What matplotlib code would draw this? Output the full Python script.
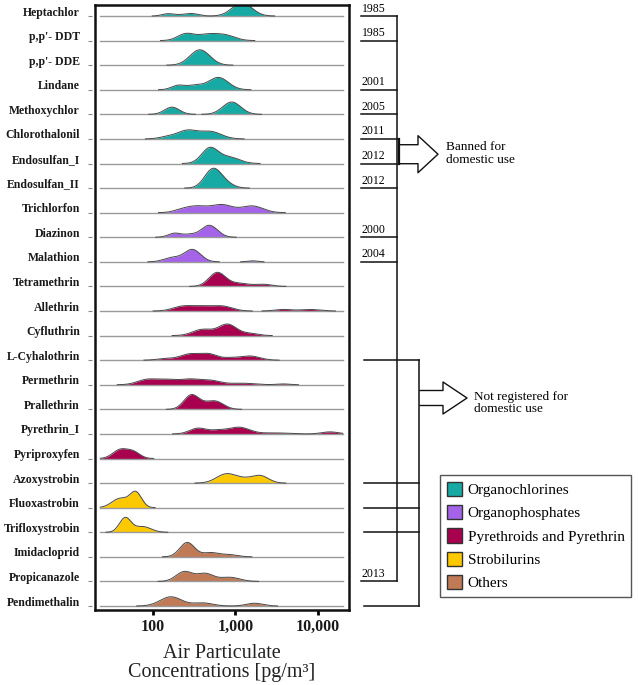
import numpy as np
import matplotlib
matplotlib.use("Agg")
import matplotlib.pyplot as plt
from matplotlib.patches import Patch
from matplotlib.lines import Line2D
from matplotlib.ticker import NullLocator
from matplotlib.transforms import blended_transform_factory

plt.rcParams['font.family'] = ['Liberation Serif', 'DejaVu Serif']

pesticides = ['Heptachlor', "p,p'- DDT", "p,p'- DDE", 'Lindane', 'Methoxychlor',
              'Chlorothalonil', 'Endosulfan_I', 'Endosulfan_II', 'Trichlorfon',
              'Diazinon', 'Malathion', 'Tetramethrin', 'Allethrin', 'Cyfluthrin',
              'L-Cyhalothrin', 'Permethrin', 'Prallethrin', 'Pyrethrin_I',
              'Pyriproxyfen', 'Azoxystrobin', 'Fluoxastrobin', 'Trifloxystrobin',
              'Imidacloprid', 'Propicanazole', 'Pendimethalin']
pest_class = [0, 0, 0, 0, 0, 0, 0, 0, 1, 1, 1, 2, 2, 2, 2, 2, 2, 2, 2, 3, 3, 3, 4, 4, 4]

class_names = ['Organochlorines', 'Organophosphates', 'Pyrethroids and Pyrethrin',
               'Strobilurins', 'Others']
class_colors = ['#17a9a3', '#a463e8', '#a8004f', '#fcc900', '#c07a55']

# density peaks: (concentration pg/m3, height, width in decades)
peaks = [
    [(150, 2, 0.07), (220, 1, 0.1), (300, 2, 0.08), (1200, 13, 0.12)],
    [(250, 6.5, 0.1), (450, 5.5, 0.12), (750, 5, 0.12)],
    [(370, 15, 0.12)],
    [(200, 4, 0.08), (320, 4, 0.1), (620, 12, 0.12)],
    [(170, 7, 0.09), (900, 12, 0.11)],
    [(150, 2, 0.1), (260, 8, 0.12), (500, 7, 0.13)],
    [(490, 15, 0.1), (850, 6, 0.12)],
    [(530, 18, 0.1), (750, 4, 0.1)],
    [(220, 2, 0.1), (340, 6, 0.13), (690, 7.5, 0.13), (1600, 6.5, 0.13)],
    [(185, 4, 0.08), (280, 2.3, 0.07), (480, 11.7, 0.1)],
    [(170, 4, 0.1), (300, 12, 0.1), (1600, 1, 0.06)],
    [(600, 13.5, 0.1), (1100, 3, 0.12), (2200, 2, 0.1)],
    [(230, 4.5, 0.12), (400, 4, 0.12), (700, 4.5, 0.12), (3800, 1.5, 0.1), (8000, 1.5, 0.12)],
    [(400, 6, 0.12), (800, 11, 0.11), (1500, 2, 0.1)],
    [(140, 1.5, 0.1), (280, 6, 0.12), (480, 5.5, 0.1), (850, 2, 0.1), (1500, 4, 0.12)],
    [(85, 5, 0.12), (150, 4.5, 0.12), (280, 5, 0.12), (500, 4, 0.12), (1200, 1.5, 0.15), (3800, 0.8, 0.08)],
    [(290, 13.5, 0.09), (420, 3, 0.1), (580, 7, 0.1)],
    [(350, 5.5, 0.1), (600, 3, 0.1), (1100, 6.5, 0.13), (3000, 1, 0.15), (14000, 2, 0.1)],
    [(40, 8.5, 0.09), (58, 6, 0.08)],
    [(780, 9, 0.12), (1300, 3, 0.1), (2000, 7, 0.1)],
    [(40, 9, 0.1), (62, 14.5, 0.07)],
    [(46, 14, 0.07), (75, 5.5, 0.1)],
    [(260, 14, 0.09), (500, 4, 0.1), (850, 2, 0.1)],
    [(240, 9.5, 0.1), (430, 7.5, 0.1), (850, 4, 0.12)],
    [(165, 9, 0.13), (400, 3, 0.12), (1700, 2.7, 0.1)],
]

ban_years = [('Heptachlor', '1985'), ("p,p'- DDT", '1985'), ('Lindane', '2001'),
             ('Methoxychlor', '2005'), ('Chlorothalonil', '2011'), ('Endosulfan_I', '2012'),
             ('Endosulfan_II', '2012'), ('Diazinon', '2000'), ('Malathion', '2004'),
             ('Propicanazole', '2013')]
not_registered = ['L-Cyhalothrin', 'Azoxystrobin', 'Fluoxastrobin', 'Trifloxystrobin',
                  'Pendimethalin']

W, H = 638, 685
fig = plt.figure(figsize=(W / 100, H / 100), dpi=100)
ax_l, ax_r, ax_t, ax_b = 95, 349, 5, 610
ax = fig.add_axes([ax_l / W, 1 - ax_b / H, (ax_r - ax_l) / W, (ax_b - ax_t) / H])

n = len(pesticides)
row_top, row_bot = 16, 606
step = (row_bot - row_top) / (n - 1)
dens_scale = 1 / 24.0

ax.set_xscale('log')
ax.set_xlim(19.8, 23800)
ax.set_ylim(-(n - 1) - (ax_b - row_bot) / step, (row_top - ax_t) / step)

grid = np.logspace(1.36, 4.3, 500)
lg = np.log10(grid)
trans = blended_transform_factory(ax.transAxes, ax.transData)

for i, (name, cls, pk) in enumerate(zip(pesticides, pest_class, peaks)):
    base = -i
    d = np.zeros_like(grid)
    for c, h, s in pk:
        d += h * np.exp(-0.5 * ((lg - np.log10(c)) / s) ** 2)
    y = base + d * dens_scale
    z = 2 + i * 0.1
    ax.fill_between(grid, base, y, color=class_colors[cls], lw=0, zorder=z)
    ax.plot(grid, np.full_like(grid, base), color='#9a9a9a', lw=1.0, zorder=z + 0.01)
    ax.plot(grid, np.ma.masked_where(d < 0.05, y), color='#474747', lw=0.7, zorder=z + 0.02)
    ax.text(-(95 - 80) / 254, base + 3.5 / step, name, transform=trans, ha='right',
            va='center', fontsize=8.5, fontweight='bold', color='#1a1a1a')
    ax.plot([-(95 - 90) / 254], [base], marker='_', ms=3, mew=0.8, color='#888888',
            transform=trans, clip_on=False)

ax.set_yticks([])
ax.set_xticks([100, 1000, 10000])
ax.set_xticklabels(['100', '1,000', '10,000'], fontweight='bold')
ax.xaxis.set_minor_locator(NullLocator())
ax.tick_params(axis='x', length=3.5, width=2, direction='out', labelsize=11.5, pad=3,
               labelcolor='#1a1a1a')
for sp in ax.spines.values():
    sp.set_linewidth(1.8)
    sp.set_color('#111111')

fig.text(222 / W, 1 - 663 / H, 'Air Particulate\nConcentrations [pg/m³]', ha='center',
         va='center', fontsize=14.5, linespacing=1.0, color='#222222')


def P(x, y):
    return x / W, 1 - y / H


def seg(xs, ys, lw=1.1):
    fig.add_artist(Line2D([x / W for x in xs], [1 - y / H for y in ys], color='#111111', lw=lw))


def rowpx(i):
    return row_top + i * step


for name, yr in ban_years:
    i = pesticides.index(name)
    seg([361, 397], [rowpx(i)] * 2)
    fig.text(*P(362, rowpx(i) - 1.5), yr, fontsize=8.5, ha='left', va='bottom')
seg([397, 397], [rowpx(0), rowpx(pesticides.index('Propicanazole'))])

for name in not_registered:
    i = pesticides.index(name)
    seg([364, 419], [rowpx(i)] * 2)
seg([419, 419], [rowpx(pesticides.index('L-Cyhalothrin')), rowpx(n - 1)])

# banned arrow
i5 = pesticides.index('Chlorothalonil')
i6 = pesticides.index('Endosulfan_I')
seg([399, 399], [rowpx(i5), rowpx(i6)], lw=1.6)
cy = (rowpx(i5) + rowpx(i6)) / 2 + 3
seg([400, 418, 418, 438, 418, 418, 400],
    [cy - 9.5, cy - 9.5, cy - 18.5, cy, cy + 18.5, cy + 9.5, cy + 9.5], lw=1.0)
fig.text(*P(446, cy - 1), 'Banned for\ndomestic use', fontsize=9.5, ha='left', va='center',
         linespacing=1.1)

# not registered arrow
cy = 398
seg([420, 443, 443, 467, 443, 443, 420],
    [cy - 7.5, cy - 7.5, cy - 16, cy, cy + 16, cy + 7.5, cy + 7.5], lw=1.0)
fig.text(*P(474, cy + 5), 'Not registered for\ndomestic use', fontsize=9.5, ha='left',
         va='center', linespacing=1.1)

handles = [Patch(facecolor=c, edgecolor='#333333', lw=1) for c in class_colors]
leg = fig.legend(handles, class_names, loc='upper left', bbox_to_anchor=P(440, 475),
                 frameon=True, fancybox=False, edgecolor='#555555', framealpha=1,
                 fontsize=11.0, handlelength=1.0, handleheight=1.05, handletextpad=0.35,
                 labelspacing=0.52, borderpad=0.45, borderaxespad=0)
leg.get_frame().set_linewidth(1.0)

fig.savefig('out.png', dpi=100)
